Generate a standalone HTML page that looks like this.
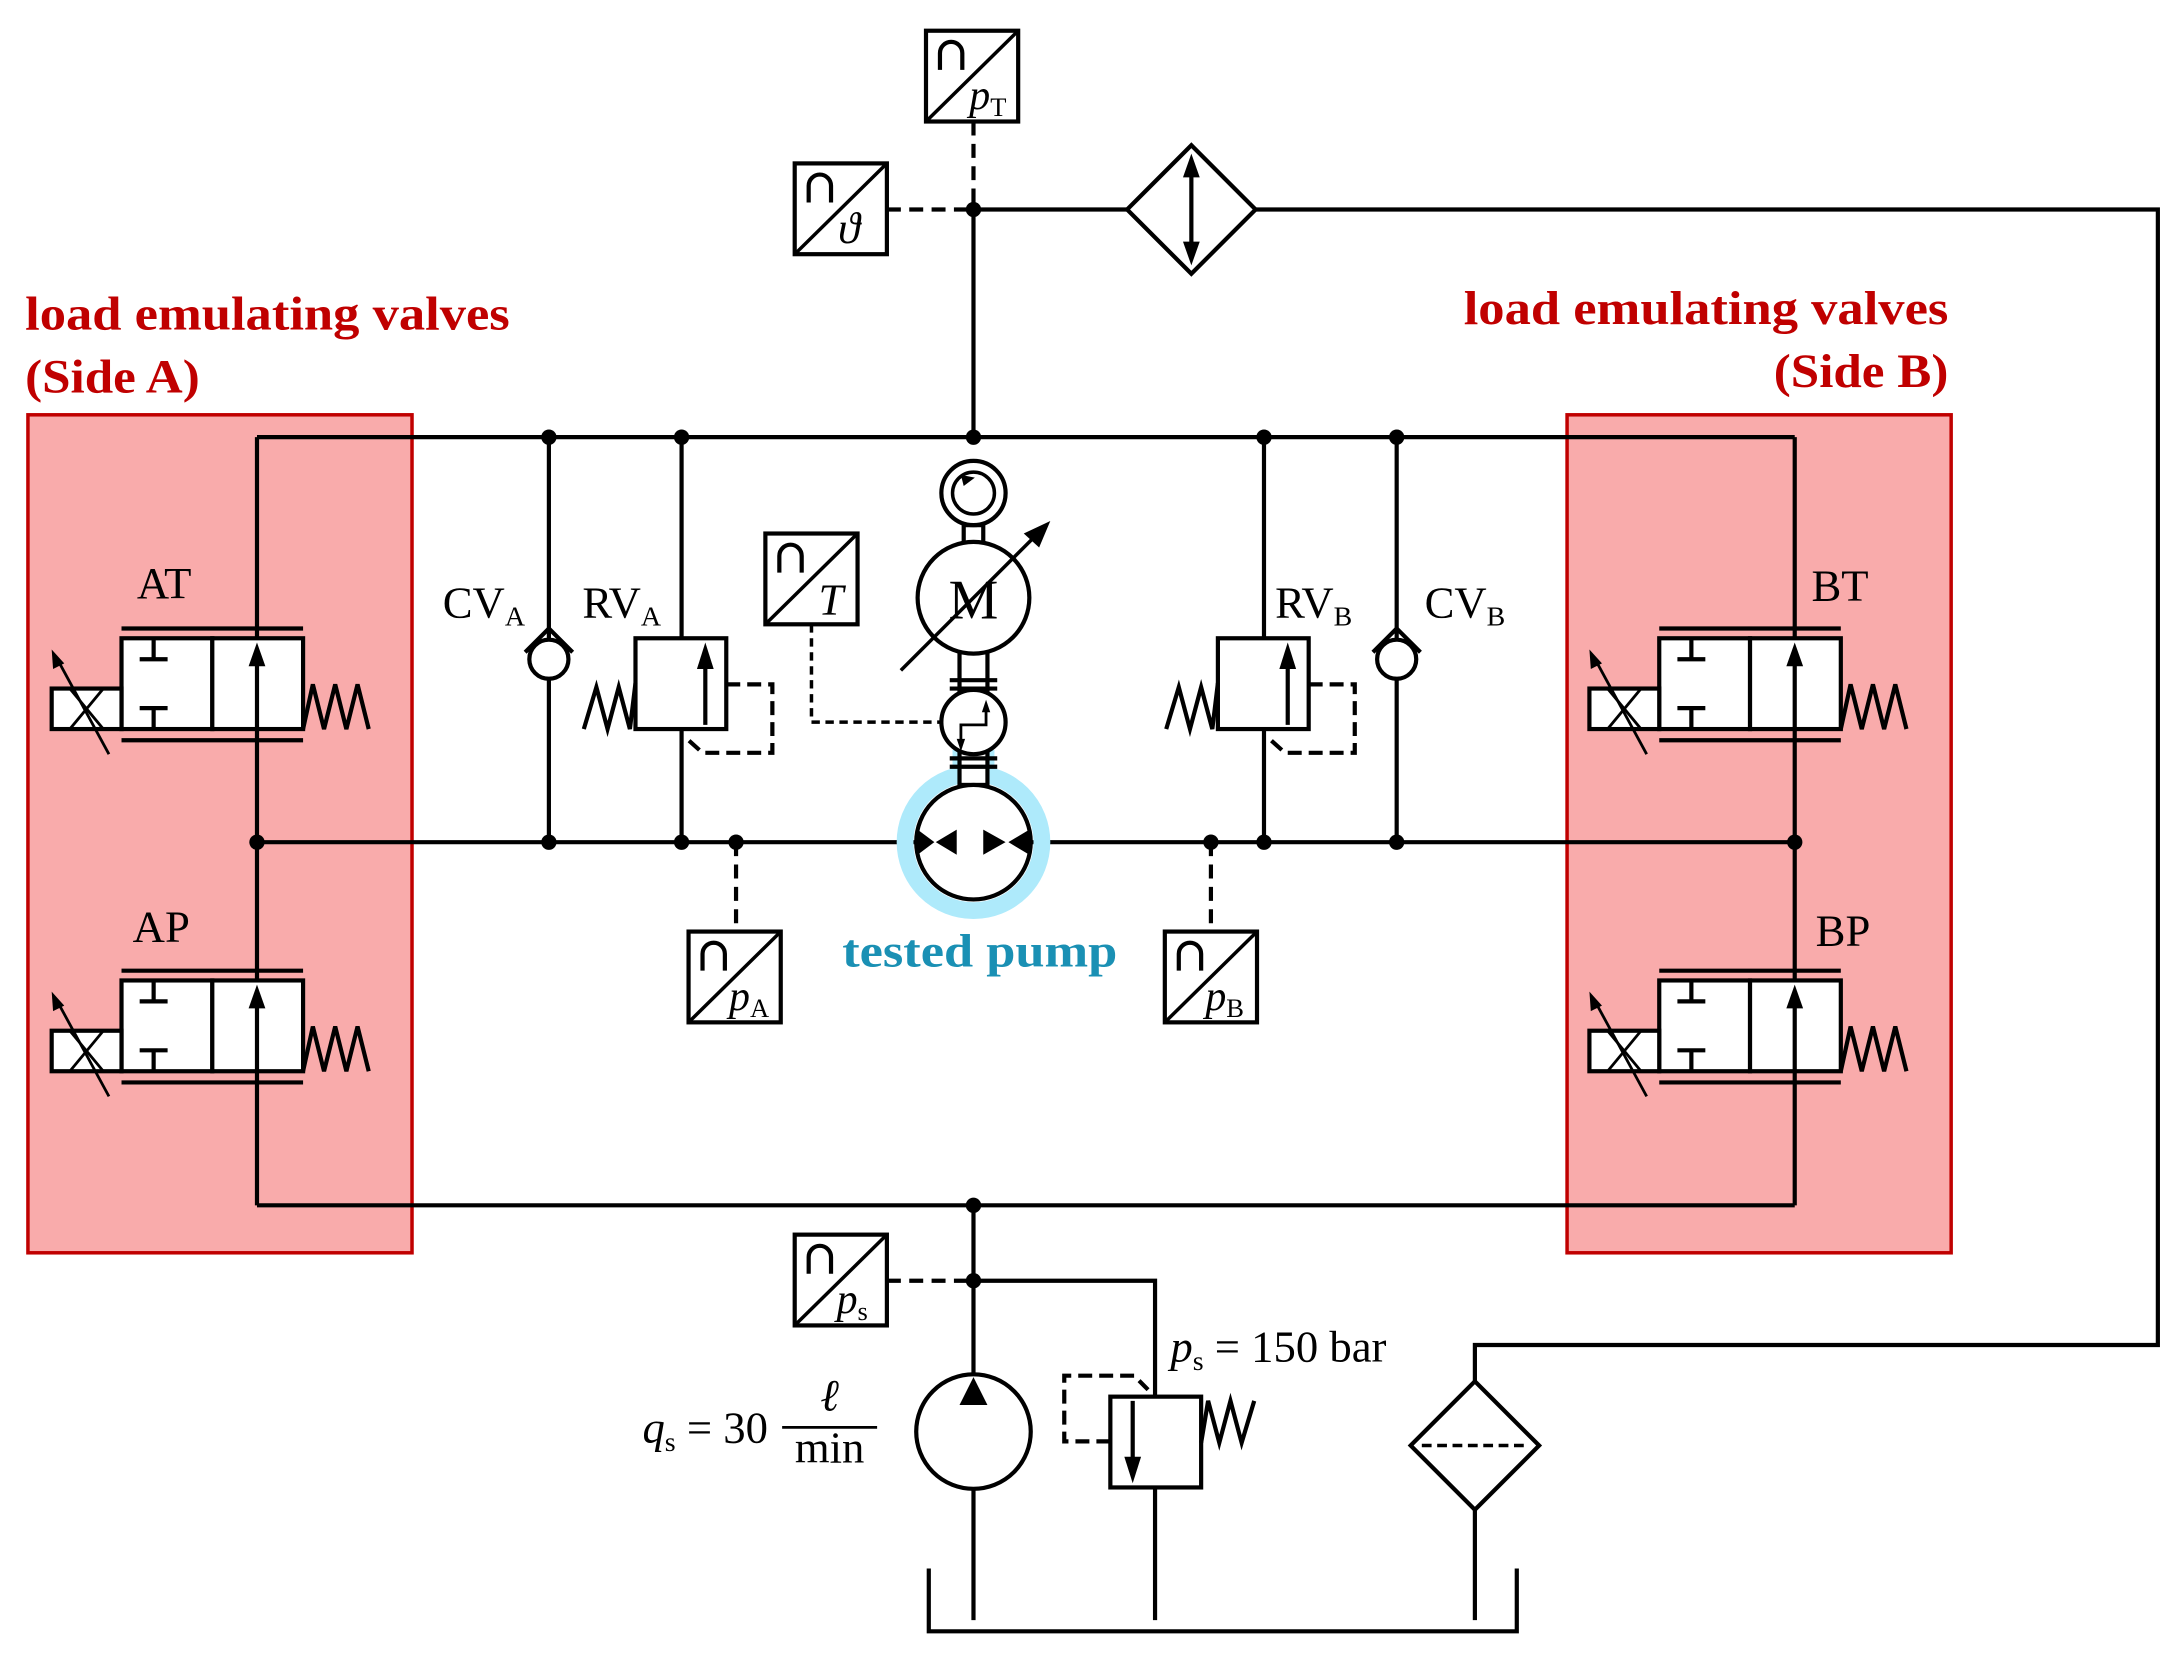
<!DOCTYPE html>
<html><head><meta charset="utf-8"><style>
html,body{margin:0;padding:0;background:#fff}
svg{display:block}
text{font-family:"Liberation Serif",serif}
</style></head><body>
<svg width="2183" height="1663" viewBox="0 0 1563 1190.7" preserveAspectRatio="none" xmlns="http://www.w3.org/2000/svg">
<defs>
<g id="dv">
 <line x1="-97" y1="-7" x2="33" y2="-7" stroke="#000" stroke-width="3"/>
 <line x1="-97" y1="73" x2="33" y2="73" stroke="#000" stroke-width="3"/>
 <rect x="-97" y="0" width="65" height="65" fill="#fff" stroke="#000" stroke-width="3"/>
 <rect x="-32" y="0" width="65" height="65" fill="#fff" stroke="#000" stroke-width="3"/>
 <line x1="-74" y1="0" x2="-74" y2="15" stroke="#000" stroke-width="3"/>
 <line x1="-84" y1="15" x2="-64" y2="15" stroke="#000" stroke-width="3"/>
 <line x1="-74" y1="65" x2="-74" y2="50" stroke="#000" stroke-width="3"/>
 <line x1="-84" y1="50" x2="-64" y2="50" stroke="#000" stroke-width="3"/>
 <line x1="0" y1="65" x2="0" y2="15" stroke="#000" stroke-width="3"/>
 <polygon points="0,3 -6,20 6,20" fill="#000"/>
 <rect x="-147" y="36" width="50" height="29" fill="#fff" stroke="#000" stroke-width="3"/>
 <line x1="-134" y1="36" x2="-110" y2="65" stroke="#000" stroke-width="2"/>
 <line x1="-110" y1="36" x2="-134" y2="65" stroke="#000" stroke-width="2"/>
 <line x1="-106" y1="83" x2="-144" y2="13" stroke="#000" stroke-width="2"/>
 <polygon points="-147,8 -146,22 -138,18" fill="#000"/>
 <polyline points="33,65 40,33 48,65 56,33 64,65 72,33 80,65" fill="none" stroke="#000" stroke-width="3"/>
</g>
<g id="sens">
 <rect x="0" y="0" width="66" height="65" fill="#fff" stroke="#000" stroke-width="3"/>
 <line x1="0" y1="65" x2="66" y2="0" stroke="#000" stroke-width="2.5"/>
 <path d="M10,28 V16 A8,8 0 0 1 26,16 V28" fill="none" stroke="#000" stroke-width="3"/>
</g>
<g id="rv">
 <rect x="-33" y="0" width="65" height="65" fill="#fff" stroke="#000" stroke-width="3"/>
 <line x1="17" y1="62" x2="17" y2="15" stroke="#000" stroke-width="3"/>
 <polygon points="17,3 11,22 23,22" fill="#000"/>
 <polyline points="-33,32 -37,65 -45,35 -53,65 -61,35 -70,65" fill="none" stroke="#000" stroke-width="3"/>
 <polyline points="32,33 65,33 65,82 15,82 5,73" fill="none" stroke="#000" stroke-width="3" stroke-dasharray="10,5"/>
</g>
<g id="cv">
 <circle cx="0" cy="0" r="14" fill="#fff" stroke="#000" stroke-width="3"/>
 <polyline points="-17,-5 0,-22 17,-5" fill="none" stroke="#000" stroke-width="3"/>
</g>
</defs>

<rect x="20" y="297" width="275" height="600" fill="#f9abab" stroke="#c00000" stroke-width="2.5"/>
<rect x="1122" y="297" width="275" height="600" fill="#f9abab" stroke="#c00000" stroke-width="2.5"/>

<g stroke="#000" stroke-width="3" fill="none">
<line x1="184" y1="313" x2="1285" y2="313"/>
<line x1="184" y1="603" x2="656" y2="603"/>
<line x1="738" y1="603" x2="1285" y2="603"/>
<line x1="184" y1="863" x2="1285" y2="863"/>
<line x1="184" y1="313" x2="184" y2="863"/>
<line x1="1285" y1="313" x2="1285" y2="863"/>
<line x1="393" y1="313" x2="393" y2="603"/>
<line x1="488" y1="313" x2="488" y2="603"/>
<line x1="905" y1="313" x2="905" y2="603"/>
<line x1="1000" y1="313" x2="1000" y2="603"/>
<line x1="697" y1="150" x2="697" y2="313"/>
<line x1="697" y1="150" x2="807" y2="150"/>
<polyline points="899,150 1545,150 1545,963 1056,963 1056,990"/>
<line x1="1056" y1="1080" x2="1056" y2="1160"/>
<polyline points="665,1123 665,1168 1086,1168 1086,1123"/>
<line x1="697" y1="863" x2="697" y2="983"/>
<line x1="697" y1="1067" x2="697" y2="1160"/>
<polyline points="697,917 827,917 827,1000"/>
<line x1="827" y1="1065" x2="827" y2="1160"/>
</g>

<use href="#dv" x="184" y="457"/>
<use href="#dv" x="184" y="702"/>
<use href="#dv" x="1285" y="457"/>
<use href="#dv" x="1285" y="702"/>
<use href="#rv" x="488" y="457"/>
<use href="#rv" x="905" y="457"/>
<use href="#cv" x="393" y="472"/>
<use href="#cv" x="1000" y="472"/>

<rect x="795" y="1000" width="65" height="65" fill="#fff" stroke="#000" stroke-width="3"/>
<line x1="811" y1="1003" x2="811" y2="1050" stroke="#000" stroke-width="3"/>
<polygon points="811,1062 805,1043 817,1043" fill="#000"/>
<polyline points="860,1033 865,1003 873,1033 881,1003 889,1033 898,1003" fill="none" stroke="#000" stroke-width="3"/>
<polyline points="795,1032 762,1032 762,985 812,985 822,995" fill="none" stroke="#000" stroke-width="3" stroke-dasharray="10,5"/>

<g stroke="#000" stroke-width="3" fill="none" stroke-dasharray="10,6">
<line x1="697" y1="87" x2="697" y2="150"/>
<line x1="635" y1="150" x2="697" y2="150"/>
<line x1="527" y1="603" x2="527" y2="667"/>
<line x1="867" y1="603" x2="867" y2="667"/>
<line x1="635" y1="917" x2="697" y2="917"/>
</g>
<polyline points="581,447 581,517 674,517" fill="none" stroke="#000" stroke-width="2.5" stroke-dasharray="6,4"/>

<use href="#sens" x="663" y="22"/>
<use href="#sens" x="569" y="117"/>
<use href="#sens" x="548" y="382"/>
<use href="#sens" x="493" y="667"/>
<use href="#sens" x="834" y="667"/>
<use href="#sens" x="569" y="884"/>
<text x="694" y="78" font-size="30" font-style="italic">p<tspan font-size="19" font-style="normal" dy="5">T</tspan></text>
<text x="600" y="174" font-size="32" font-style="italic">ϑ</text>
<text x="586" y="440" font-size="32" font-style="italic">T</text>
<text x="522" y="723" font-size="30" font-style="italic">p<tspan font-size="19" font-style="normal" dy="5">A</tspan></text>
<text x="863" y="723" font-size="30" font-style="italic">p<tspan font-size="19" font-style="normal" dy="5">B</tspan></text>
<text x="599" y="940" font-size="30" font-style="italic">p<tspan font-size="19" font-style="normal" dy="5">s</tspan></text>

<polygon points="807,150 853,104 899,150 853,196" fill="#fff" stroke="#000" stroke-width="3"/>
<line x1="853" y1="125" x2="853" y2="175" stroke="#000" stroke-width="3"/>
<polygon points="853,110 847,127 859,127" fill="#000"/>
<polygon points="853,190 847,173 859,173" fill="#000"/>
<polygon points="1010,1035 1056,989 1102,1035 1056,1081" fill="#fff" stroke="#000" stroke-width="3"/>
<line x1="1018" y1="1035" x2="1094" y2="1035" stroke="#000" stroke-width="2.5" stroke-dasharray="7,4"/>

<circle cx="697" cy="1025" r="41" fill="#fff" stroke="#000" stroke-width="3"/>
<polygon points="697,986 687,1006 707,1006" fill="#000"/>

<circle cx="697" cy="603" r="49" fill="none" stroke="#aeeafb" stroke-width="12"/>
<rect x="682" y="537" width="30" height="20" fill="#aeeafb"/>
<g stroke="#000" stroke-width="3" fill="#fff">
<rect x="690" y="376" width="14" height="13"/>
<rect x="687" y="467" width="20" height="30"/>
<rect x="687" y="537" width="20" height="25"/>
<circle cx="697" cy="353" r="23"/>
<circle cx="697" cy="428" r="40"/>
<circle cx="697" cy="517" r="23"/>
<circle cx="697" cy="603" r="41"/>
</g>
<g stroke="#000" stroke-width="3">
<line x1="680" y1="487" x2="714" y2="487"/>
<line x1="680" y1="493" x2="714" y2="493"/>
<line x1="680" y1="543" x2="714" y2="543"/>
<line x1="680" y1="549" x2="714" y2="549"/>
</g>
<circle cx="697" cy="353" r="15" fill="none" stroke="#000" stroke-width="2.5"/>
<polygon points="688,340 698,342 690,348" fill="#000"/>
<text x="697" y="443" font-size="40" text-anchor="middle">M</text>
<line x1="645" y1="480" x2="740" y2="385" stroke="#000" stroke-width="2.5"/>
<polygon points="752,373 733,382 744,392" fill="#000"/>
<polyline points="706,504 706,519 688,519 688,535" fill="none" stroke="#000" stroke-width="2"/>
<polygon points="706,501 703,510 709,510" fill="#000"/>
<polygon points="688,538 685,529 691,529" fill="#000"/>
<polygon points="657,594 669,603 657,612" fill="#000"/>
<polygon points="670,603 685,594 685,612" fill="#000"/>
<polygon points="704,594 720,603 704,612" fill="#000"/>
<polygon points="737,594 722,603 737,612" fill="#000"/>

<g fill="#000">
<circle cx="393" cy="313" r="5.5"/><circle cx="488" cy="313" r="5.5"/><circle cx="697" cy="313" r="5.5"/>
<circle cx="905" cy="313" r="5.5"/><circle cx="1000" cy="313" r="5.5"/>
<circle cx="184" cy="603" r="5.5"/><circle cx="393" cy="603" r="5.5"/><circle cx="488" cy="603" r="5.5"/>
<circle cx="527" cy="603" r="5.5"/><circle cx="867" cy="603" r="5.5"/><circle cx="905" cy="603" r="5.5"/>
<circle cx="1000" cy="603" r="5.5"/><circle cx="1285" cy="603" r="5.5"/>
<circle cx="697" cy="863" r="5.5"/><circle cx="697" cy="917" r="5.5"/><circle cx="697" cy="150" r="5.5"/>
</g>

<g fill="#c00000" font-weight="bold" font-size="34">
<text x="18" y="236" textLength="347" lengthAdjust="spacingAndGlyphs">load emulating valves</text>
<text x="18" y="281" textLength="125" lengthAdjust="spacingAndGlyphs">(Side A)</text>
<text x="1048" y="232" textLength="347" lengthAdjust="spacingAndGlyphs">load emulating valves</text>
<text x="1270" y="277" textLength="125" lengthAdjust="spacingAndGlyphs">(Side B)</text>
</g>
<text x="603" y="692" font-size="33" font-weight="bold" fill="#1a90b4" textLength="197" lengthAdjust="spacingAndGlyphs">tested pump</text>
<g font-size="32">
<text x="98" y="428">AT</text>
<text x="95" y="674">AP</text>
<text x="1297" y="430">BT</text>
<text x="1300" y="677">BP</text>
<text x="317" y="442">CV<tspan font-size="20" dy="6">A</tspan></text>
<text x="417" y="442">RV<tspan font-size="20" dy="6">A</tspan></text>
<text x="913" y="442">RV<tspan font-size="20" dy="6">B</tspan></text>
<text x="1020" y="442">CV<tspan font-size="20" dy="6">B</tspan></text>
<text x="838" y="975"><tspan font-style="italic">p</tspan><tspan font-size="20" dy="6">s</tspan><tspan dy="-6"> = 150 bar</tspan></text>
<text x="460" y="1033"><tspan font-style="italic">q</tspan><tspan font-size="20" dy="6">s</tspan><tspan dy="-6"> = 30</tspan></text>
<text x="594" y="1010" text-anchor="middle" font-style="italic">ℓ</text>
<text x="594" y="1047" text-anchor="middle">min</text>
</g>
<line x1="560" y1="1022" x2="628" y2="1022" stroke="#000" stroke-width="2"/>
</svg>
</body></html>
